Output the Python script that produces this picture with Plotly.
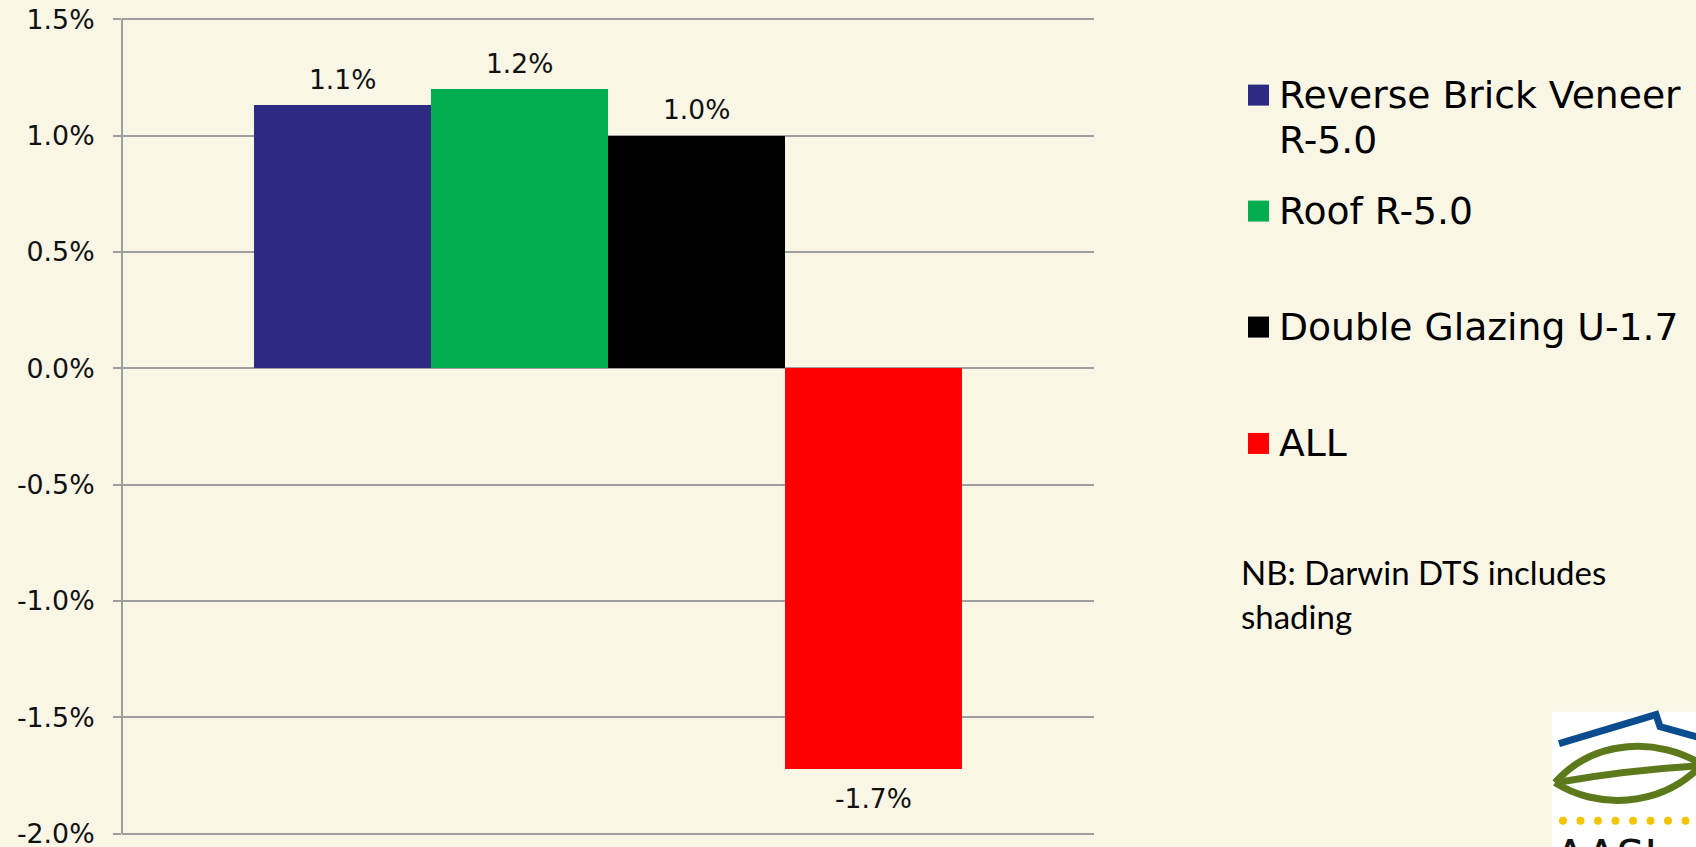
import plotly.graph_objects as go

# ---------------- data ----------------
series_names = ["Reverse Brick Veneer<br>R-5.0", "Roof R-5.0", "Double Glazing U-1.7", "ALL"]
series_values = [1.13, 1.20, 1.00, -1.72]          # percent
series_labels = ["1.1%", "1.2%", "1.0%", "-1.7%"]
series_colors = ["#2D2A84", "#00AE4F", "#000000", "#FF0000"]
tick_vals = [-2.0, -1.5, -1.0, -0.5, 0.0, 0.5, 1.0, 1.5]
tick_text = ["-2.0%", "-1.5%", "-1.0%", "-0.5%", "0.0%", "0.5%", "1.0%", "1.5%"]
note_lines = ["NB: Darwin DTS includes", "shading"]
logo_text = "AASI"

# ---------------- layout constants ----------------
FW, FH = 1696, 847
Y_LO, Y_HI = -2.01, 1.51
UNIT = 232.7                       # px per 1 %
PL, PR = 122, 1094
PT = 19.5 - (Y_HI - 1.5) * UNIT
PB = 834.0 + (-2.0 - Y_LO) * UNIT
BG = "#F9F6E6"
GRID = "#9E9E9E"
FONT = "DejaVu Sans, Verdana, sans-serif"


def px_x(x):
    return (x - PL) / (PR - PL)


def px_y(y):
    return (PB - y) / (PB - PT)


fig = go.Figure()
for name, val, col in zip(series_names, series_values, series_colors):
    fig.add_trace(go.Bar(x=[name], y=[val], marker=dict(color=col, line=dict(width=0)),
                         name=name, showlegend=False, hoverinfo="skip"))

annotations = []
shapes = []

# data labels
for name, val, lab in zip(series_names, series_values, series_labels):
    annotations.append(dict(x=name, y=val, xref="x", yref="y", text=lab, showarrow=False,
                            yanchor="middle", xanchor="center",
                            yshift=26 if val >= 0 else -30,
                            font=dict(family=FONT, size=26.5, color="#111111")))

# manual legend
leg_centers = [95.3, 211.3, 327.3, 443.7]
for name, col, cy in zip(series_names, series_colors, leg_centers):
    shapes.append(dict(type="rect", xref="paper", yref="paper",
                       x0=px_x(1248), x1=px_x(1269), y0=px_y(cy - 10.5), y1=px_y(cy + 10.5),
                       fillcolor=col, line=dict(width=0)))
    for i, line in enumerate(name.split("<br>")):
        annotations.append(dict(x=px_x(1277), y=px_y(cy + 45 * i), xref="paper", yref="paper",
                                text=line, showarrow=False, xanchor="left", yanchor="middle",
                                font=dict(family=FONT, size=37.7, color="#000000")))

# note
for i, line in enumerate(note_lines):
    annotations.append(dict(x=px_x(1239), y=px_y(572 + 44 * i), xref="paper", yref="paper",
                            text=line, showarrow=False, xanchor="left", yanchor="middle",
                            font=dict(family="Lato, Carlito, sans-serif", size=33, color="#000000")))

# logo (partial, bottom right)
shapes.append(dict(type="rect", xref="paper", yref="paper", layer="above",
                   x0=px_x(1552), x1=px_x(1700), y0=px_y(712), y1=px_y(850),
                   fillcolor="#FFFFFF", line=dict(width=0)))


def path(points_cmd):
    out = []
    for tok in points_cmd:
        if isinstance(tok, str):
            out.append(tok)
        else:
            out.append(f"{px_x(tok[0]):.5f},{px_y(tok[1]):.5f}")
    return " ".join(out)


roof = path(["M", (1559, 744), "L", (1656, 715), "L", (1660, 727), "L", (1700, 738)])
shapes.append(dict(type="path", xref="paper", yref="paper", path=roof,
                   line=dict(color="#0B4C8F", width=7)))
leaf_top = path(["M", (1555, 783), "C", (1595, 738), (1660, 738), (1702, 765)])
leaf_bot = path(["M", (1555, 783), "C", (1595, 809), (1660, 809), (1702, 765)])
vein = path(["M", (1555, 783), "Q", (1630, 770), (1702, 766)])
for p in (leaf_top, leaf_bot, vein):
    shapes.append(dict(type="path", xref="paper", yref="paper", path=p,
                       line=dict(color="#5C7A1C", width=7)))
for dx in [1563, 1580.5, 1598, 1615.5, 1633, 1650.5, 1668, 1685.5]:
    shapes.append(dict(type="circle", xref="paper", yref="paper",
                       x0=px_x(dx - 4), x1=px_x(dx + 4), y0=px_y(817), y1=px_y(825),
                       fillcolor="#F2C500", line=dict(width=0)))
annotations.append(dict(x=px_x(1553), y=px_y(829), xref="paper", yref="paper", text=logo_text,
                        showarrow=False, xanchor="left", yanchor="top",
                        font=dict(family="DejaVu Sans, sans-serif", size=44, color="#111111")))

fig.update_layout(
    width=FW, height=FH,
    margin=dict(l=PL, r=FW - PR, t=PT, b=FH - PB, pad=0, autoexpand=False),
    paper_bgcolor=BG, plot_bgcolor=BG,
    barmode="overlay", bargap=0,
    showlegend=False,
    annotations=annotations, shapes=shapes,
    xaxis=dict(type="category", range=[-1.2458, 4.2458], showticklabels=False, ticks="",
               showgrid=False, zeroline=False, showline=False, automargin=False),
    yaxis=dict(range=[Y_LO, Y_HI], tickvals=tick_vals, ticktext=tick_text,
               ticks="outside", ticklen=8, tickwidth=2, tickcolor=GRID,
               showgrid=True, gridcolor=GRID, gridwidth=2,
               zeroline=True, zerolinecolor=GRID, zerolinewidth=2,
               showline=False, automargin=False,
               ticklabelstandoff=13, ticklabeloverflow="allow",
               tickfont=dict(family=FONT, size=26.8, color="#111111")),
    font=dict(family=FONT),
)
# vertical axis line spanning exactly from -2.0 % to 1.5 %
fig.add_shape(type="line", xref="paper", yref="y", x0=0, x1=0, y0=-2.0, y1=1.5,
              line=dict(color=GRID, width=2), layer="above")

fig.write_html("out.html", config={"displayModeBar": False},
               post_script="document.body.style.margin='0';document.body.style.overflow='hidden';")
